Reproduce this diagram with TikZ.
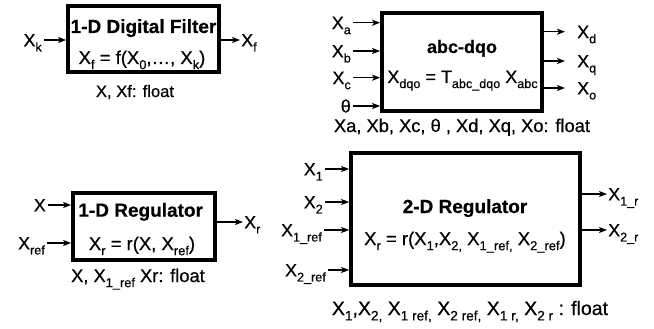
\documentclass[tikz,border=0pt]{standalone}
\usepackage{fontspec}
\setmainfont{Liberation Sans}[FakeBold=0.5]
\usepackage{graphicx}
\usetikzlibrary{arrows.meta,positioning}
\newcommand{\fs}[1]{\fontsize{#1}{#1}\selectfont}
\newcommand{\sub}[1]{\raisebox{-0.28em}{\scalebox{0.7}{#1}}}
\tikzset{
  blk/.style={draw=black,line width=3.8pt,inner sep=0pt},
  ttl/.style={font=\fs{19}\bfseries,anchor=base,inner sep=0pt},
  eqn/.style={font=\fs{18.5},anchor=base,inner sep=0pt},
  capt/.style={font=\fs{18.3},anchor=base,inner sep=0pt},
  io/.style={font=\fs{18},inner xsep=2pt,inner ysep=0pt,
             text height=12.9pt,text depth=0pt},
  sig/.style={-{Stealth[length=8pt,width=6pt,inset=2pt]},line width=1.5pt},
}
\begin{document}
\begin{tikzpicture}[x=1pt,y=-1pt]
  \useasboundingbox (0,0) rectangle (654,329);
  % 1-D digital filter
  \node[blk,minimum width=151pt,minimum height=66pt] (filt) at (143.5,39) {};
  \node[ttl] (filtT) at (143.5,33) {1-D Digital Filter};
  \node[eqn] (filtE) at (142,64) {X\sub{f} = f(X\sub{0},…, X\sub{k})};
  \node[capt,font=\fs{16.6}] (filtC) at (135,97) {X, Xf: float};
  \node[io,anchor=east] (xk) at (44,40) {X\sub{k}};
  \node[io,anchor=west,inner xsep=1pt] (xf) at (240,40) {X\sub{f}};
  \draw[sig] (xk.east) -- (xk.east -| filt.west);
  \draw[sig] (xf.west -| filt.east) -- (xf.west);
  % abc-dqo transform
  \node[blk,minimum width=160pt,minimum height=98pt] (dqo) at (462,62) {};
  \node[ttl,font=\fs{18}\bfseries] (dqoT) at (462,53) {abc-dqo};
  \node[eqn,font=\fs{18}] (dqoE) at (462.5,83) {X\sub{dqo} = T\sub{abc\_dqo} X\sub{abc}};
  \node[capt] (dqoC) at (462,132) {Xa, Xb, Xc, θ , Xd, Xq, Xo: float};
  \node[io,anchor=east] (xa) at (353,22.7) {X\sub{a}};
  \node[io,anchor=east] (xb) at (353,51) {X\sub{b}};
  \node[io,anchor=east] (xc) at (353,77.7) {X\sub{c}};
  \node[io,anchor=east] (th) at (353,106) {θ};
  \node[io,anchor=west] (xd) at (575,31.7) {X\sub{d}};
  \node[io,anchor=west] (xq) at (575,61) {X\sub{q}};
  \node[io,anchor=west] (xo) at (575,88) {X\sub{o}};
  \foreach \s in {xa,xb,xc,th}
    \draw[sig] (\s.east) -- (\s.east -| dqo.west);
  \foreach \s in {xd,xq,xo}
    \draw[sig,shorten >=10pt] (\s.west -| dqo.east) -- (\s.west);
  % 1-D regulator
  \node[blk,minimum width=142pt,minimum height=67pt] (reg1) at (144,226.5) {};
  \node[ttl] (reg1T) at (140.7,216.7) {1-D Regulator};
  \node[eqn] (reg1E) at (142,250) {X\sub{r} = r(X, X\sub{ref})};
  \node[capt] (reg1C) at (138,282) {X, X\sub{1\_ref} Xr: float};
  \node[io,anchor=east] (x) at (48,205) {X};
  \node[io,anchor=east] (xref) at (47,243) {X\sub{ref}};
  \node[io,anchor=west,inner xsep=1pt] (xr) at (243,222) {X\sub{r}};
  \draw[sig] (x.east) -- (x.east -| reg1.west);
  \draw[sig] (xref.east) -- (xref.east -| reg1.west);
  \draw[sig] (xr.west -| reg1.east) -- (xr.west);
  % 2-D regulator
  \node[blk,minimum width=229pt,minimum height=132pt] (reg2) at (465.5,219) {};
  \node[ttl] (reg2T) at (465,213) {2-D Regulator};
  \node[eqn] (reg2E) at (465,245) {X\sub{r} = r(X\sub{1},X\sub{2,} X\sub{1\_ref,} X\sub{2\_ref})};
  \node[capt,font=\fs{19.5}] (reg2C) at (470,315)
    {X\sub{1},X\sub{2,} X\sub{1 ref,} X\sub{2 ref,} X\sub{1 r,} X\sub{2 r} : float};
  \node[io,anchor=east] (x1) at (325,169) {X\sub{1}};
  \node[io,anchor=east] (x2) at (325,202) {X\sub{2}};
  \node[io,anchor=east] (x1ref) at (324,230) {X\sub{1\_ref}};
  \node[io,anchor=east] (x2ref) at (328,270) {X\sub{2\_ref}};
  \node[io,anchor=west,inner xsep=1pt] (x1r) at (607,194) {X\sub{1\_r}};
  \node[io,anchor=west,inner xsep=1pt] (x2r) at (607,230) {X\sub{2\_r}};
  \foreach \s in {x1,x2,x1ref,x2ref}
    \draw[sig] (\s.east) -- (\s.east -| reg2.west);
  \foreach \s in {x1r,x2r}
    \draw[sig] (\s.west -| reg2.east) -- (\s.west);
\end{tikzpicture}
\end{document}
